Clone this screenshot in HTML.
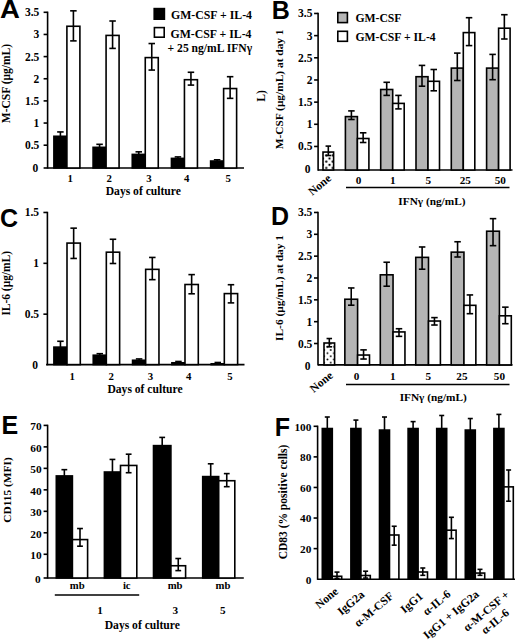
<!DOCTYPE html><html><head><meta charset="utf-8"><style>html,body{margin:0;padding:0;background:#fff;}svg{display:block;}</style></head><body>
<svg width="520" height="640" viewBox="0 0 520 640">
<defs><pattern id="dotsB" x="329.5" y="158.5" width="6.5" height="6.3" patternUnits="userSpaceOnUse"><rect width="6.5" height="6.3" fill="#fff"/><circle cx="0" cy="0" r="1.15" fill="#000"/><circle cx="6.5" cy="0" r="1.15" fill="#000"/><circle cx="0" cy="6.3" r="1.15" fill="#000"/><circle cx="6.5" cy="6.3" r="1.15" fill="#000"/><circle cx="3.25" cy="3.15" r="1.15" fill="#000"/></pattern><pattern id="dotsD" x="330.7" y="350" width="6.5" height="6.3" patternUnits="userSpaceOnUse"><rect width="6.5" height="6.3" fill="#fff"/><circle cx="0" cy="0" r="0.95" fill="#000"/><circle cx="6.5" cy="0" r="0.95" fill="#000"/><circle cx="0" cy="6.3" r="0.95" fill="#000"/><circle cx="6.5" cy="6.3" r="0.95" fill="#000"/><circle cx="3.25" cy="3.15" r="0.95" fill="#000"/></pattern></defs>
<rect width="520" height="640" fill="#fff"/>
<text transform="translate(0.00 17.50) scale(1.08 1)" font-size="25.5" font-family='"Liberation Sans", sans-serif' font-weight="bold">A</text>
<line x1="47.60" y1="11.60" x2="47.60" y2="168.70" stroke="#000" stroke-width="1.6"/>
<line x1="43.60" y1="168.00" x2="47.60" y2="168.00" stroke="#000" stroke-width="1.6"/>
<text x="38.30" y="171.60" font-size="11.5" text-anchor="end" font-family='"Liberation Serif", serif' font-weight="bold">0</text>
<line x1="43.60" y1="145.20" x2="47.60" y2="145.20" stroke="#000" stroke-width="1.6"/>
<text x="39.30" y="149.20" font-size="11.5" text-anchor="end" font-family='"Liberation Serif", serif' font-weight="bold">0.5</text>
<line x1="43.60" y1="123.05" x2="47.60" y2="123.05" stroke="#000" stroke-width="1.6"/>
<text x="39.30" y="127.05" font-size="11.5" text-anchor="end" font-family='"Liberation Serif", serif' font-weight="bold">1</text>
<line x1="43.60" y1="100.90" x2="47.60" y2="100.90" stroke="#000" stroke-width="1.6"/>
<text x="39.30" y="104.90" font-size="11.5" text-anchor="end" font-family='"Liberation Serif", serif' font-weight="bold">1.5</text>
<line x1="43.60" y1="78.75" x2="47.60" y2="78.75" stroke="#000" stroke-width="1.6"/>
<text x="39.30" y="82.75" font-size="11.5" text-anchor="end" font-family='"Liberation Serif", serif' font-weight="bold">2</text>
<line x1="43.60" y1="56.60" x2="47.60" y2="56.60" stroke="#000" stroke-width="1.6"/>
<text x="39.30" y="60.60" font-size="11.5" text-anchor="end" font-family='"Liberation Serif", serif' font-weight="bold">2.5</text>
<line x1="43.60" y1="34.45" x2="47.60" y2="34.45" stroke="#000" stroke-width="1.6"/>
<text x="39.30" y="38.45" font-size="11.5" text-anchor="end" font-family='"Liberation Serif", serif' font-weight="bold">3</text>
<line x1="43.60" y1="12.30" x2="47.60" y2="12.30" stroke="#000" stroke-width="1.6"/>
<text x="39.30" y="16.30" font-size="11.5" text-anchor="end" font-family='"Liberation Serif", serif' font-weight="bold">3.5</text>
<line x1="47.60" y1="168.00" x2="244.00" y2="168.00" stroke="#000" stroke-width="1.6"/>
<rect x="53.90" y="136.28" width="13.00" height="31.72" fill="#000" stroke="#000" stroke-width="1.6"/>
<line x1="60.40" y1="131.94" x2="60.40" y2="136.28" stroke="#000" stroke-width="1.6"/>
<line x1="57.15" y1="131.94" x2="63.65" y2="131.94" stroke="#000" stroke-width="1.6"/>
<rect x="66.90" y="26.26" width="13.00" height="141.74" fill="#fff" stroke="#000" stroke-width="1.6"/>
<line x1="73.40" y1="10.83" x2="73.40" y2="40.89" stroke="#000" stroke-width="1.6"/>
<line x1="70.15" y1="10.83" x2="76.65" y2="10.83" stroke="#000" stroke-width="1.6"/>
<line x1="70.15" y1="40.89" x2="76.65" y2="40.89" stroke="#000" stroke-width="1.6"/>
<text x="70.30" y="182.30" font-size="10.8" text-anchor="middle" font-family='"Liberation Serif", serif' font-weight="bold">1</text>
<rect x="93.08" y="147.33" width="13.00" height="20.67" fill="#000" stroke="#000" stroke-width="1.6"/>
<line x1="99.58" y1="144.32" x2="99.58" y2="147.33" stroke="#000" stroke-width="1.6"/>
<line x1="96.33" y1="144.32" x2="102.83" y2="144.32" stroke="#000" stroke-width="1.6"/>
<rect x="106.08" y="35.41" width="13.00" height="132.59" fill="#fff" stroke="#000" stroke-width="1.6"/>
<line x1="112.58" y1="21.00" x2="112.58" y2="48.40" stroke="#000" stroke-width="1.6"/>
<line x1="109.33" y1="21.00" x2="115.83" y2="21.00" stroke="#000" stroke-width="1.6"/>
<line x1="109.33" y1="48.40" x2="115.83" y2="48.40" stroke="#000" stroke-width="1.6"/>
<text x="109.10" y="182.30" font-size="10.8" text-anchor="middle" font-family='"Liberation Serif", serif' font-weight="bold">2</text>
<rect x="132.26" y="154.40" width="13.00" height="13.60" fill="#000" stroke="#000" stroke-width="1.6"/>
<line x1="138.76" y1="151.83" x2="138.76" y2="154.40" stroke="#000" stroke-width="1.6"/>
<line x1="135.51" y1="151.83" x2="142.01" y2="151.83" stroke="#000" stroke-width="1.6"/>
<rect x="145.26" y="57.60" width="13.00" height="110.40" fill="#fff" stroke="#000" stroke-width="1.6"/>
<line x1="151.76" y1="43.54" x2="151.76" y2="70.06" stroke="#000" stroke-width="1.6"/>
<line x1="148.51" y1="43.54" x2="155.01" y2="43.54" stroke="#000" stroke-width="1.6"/>
<line x1="148.51" y1="70.06" x2="155.01" y2="70.06" stroke="#000" stroke-width="1.6"/>
<text x="148.90" y="182.30" font-size="10.8" text-anchor="middle" font-family='"Liberation Serif", serif' font-weight="bold">3</text>
<rect x="171.44" y="158.38" width="13.00" height="9.62" fill="#000" stroke="#000" stroke-width="1.6"/>
<line x1="177.94" y1="156.91" x2="177.94" y2="158.38" stroke="#000" stroke-width="1.6"/>
<line x1="174.69" y1="156.91" x2="181.19" y2="156.91" stroke="#000" stroke-width="1.6"/>
<rect x="184.44" y="79.70" width="13.00" height="88.30" fill="#fff" stroke="#000" stroke-width="1.6"/>
<line x1="190.94" y1="72.27" x2="190.94" y2="85.09" stroke="#000" stroke-width="1.6"/>
<line x1="187.69" y1="72.27" x2="194.19" y2="72.27" stroke="#000" stroke-width="1.6"/>
<line x1="187.69" y1="85.09" x2="194.19" y2="85.09" stroke="#000" stroke-width="1.6"/>
<text x="186.80" y="182.30" font-size="10.8" text-anchor="middle" font-family='"Liberation Serif", serif' font-weight="bold">4</text>
<rect x="210.62" y="161.03" width="13.00" height="6.97" fill="#000" stroke="#000" stroke-width="1.6"/>
<line x1="217.12" y1="159.79" x2="217.12" y2="161.03" stroke="#000" stroke-width="1.6"/>
<line x1="213.87" y1="159.79" x2="220.37" y2="159.79" stroke="#000" stroke-width="1.6"/>
<rect x="223.62" y="88.54" width="13.00" height="79.46" fill="#fff" stroke="#000" stroke-width="1.6"/>
<line x1="230.12" y1="76.69" x2="230.12" y2="98.35" stroke="#000" stroke-width="1.6"/>
<line x1="226.87" y1="76.69" x2="233.37" y2="76.69" stroke="#000" stroke-width="1.6"/>
<line x1="226.87" y1="98.35" x2="233.37" y2="98.35" stroke="#000" stroke-width="1.6"/>
<text x="228.10" y="182.30" font-size="10.8" text-anchor="middle" font-family='"Liberation Serif", serif' font-weight="bold">5</text>
<text x="143.30" y="195.30" font-size="11.6" text-anchor="middle" font-family='"Liberation Serif", serif' font-weight="bold">Days of culture</text>
<text transform="translate(10.00 83.60) rotate(-90)" font-size="11.5" text-anchor="middle" font-family='"Liberation Serif", serif' font-weight="bold">M-CSF (μg/mL)</text>
<rect x="154.20" y="8.60" width="10.20" height="10.60" fill="#000" stroke="#000" stroke-width="1.6"/>
<text x="171.00" y="18.90" font-size="11.8" text-anchor="start" font-family='"Liberation Serif", serif' font-weight="bold">GM-CSF + IL-4</text>
<rect x="154.40" y="27.60" width="9.80" height="9.60" fill="#fff" stroke="#000" stroke-width="1.6"/>
<text x="170.50" y="37.90" font-size="11.8" text-anchor="start" font-family='"Liberation Serif", serif' font-weight="bold">GM-CSF + IL-4</text>
<text x="167.60" y="51.90" font-size="11.6" text-anchor="start" font-family='"Liberation Serif", serif' font-weight="bold">+ 25 ng/mL IFNγ</text>
<text x="271.80" y="18.80" font-size="25" text-anchor="start" font-family='"Liberation Sans", sans-serif' font-weight="bold">B</text>
<line x1="318.10" y1="12.77" x2="318.10" y2="170.70" stroke="#000" stroke-width="1.6"/>
<text x="310.60" y="173.10" font-size="11.5" text-anchor="end" font-family='"Liberation Serif", serif' font-weight="bold">0</text>
<line x1="314.10" y1="146.46" x2="318.10" y2="146.46" stroke="#000" stroke-width="1.6"/>
<text x="312.40" y="150.46" font-size="11.5" text-anchor="end" font-family='"Liberation Serif", serif' font-weight="bold">0.5</text>
<line x1="314.10" y1="124.29" x2="318.10" y2="124.29" stroke="#000" stroke-width="1.6"/>
<text x="312.40" y="128.29" font-size="11.5" text-anchor="end" font-family='"Liberation Serif", serif' font-weight="bold">1</text>
<line x1="314.10" y1="102.13" x2="318.10" y2="102.13" stroke="#000" stroke-width="1.6"/>
<text x="312.40" y="106.13" font-size="11.5" text-anchor="end" font-family='"Liberation Serif", serif' font-weight="bold">1.5</text>
<line x1="314.10" y1="79.97" x2="318.10" y2="79.97" stroke="#000" stroke-width="1.6"/>
<text x="312.40" y="83.97" font-size="11.5" text-anchor="end" font-family='"Liberation Serif", serif' font-weight="bold">2</text>
<line x1="314.10" y1="57.80" x2="318.10" y2="57.80" stroke="#000" stroke-width="1.6"/>
<text x="312.40" y="61.80" font-size="11.5" text-anchor="end" font-family='"Liberation Serif", serif' font-weight="bold">2.5</text>
<line x1="314.10" y1="35.63" x2="318.10" y2="35.63" stroke="#000" stroke-width="1.6"/>
<text x="312.40" y="39.63" font-size="11.5" text-anchor="end" font-family='"Liberation Serif", serif' font-weight="bold">3</text>
<line x1="314.10" y1="13.47" x2="318.10" y2="13.47" stroke="#000" stroke-width="1.6"/>
<text x="312.40" y="17.47" font-size="11.5" text-anchor="end" font-family='"Liberation Serif", serif' font-weight="bold">3.5</text>
<line x1="318.10" y1="170.00" x2="512.50" y2="170.00" stroke="#000" stroke-width="1.6"/>
<rect x="323.00" y="152.05" width="10.60" height="17.95" fill="url(#dotsB)" stroke="#000" stroke-width="1.6"/>
<line x1="328.30" y1="146.10" x2="328.30" y2="155.50" stroke="#000" stroke-width="1.6"/>
<line x1="325.55" y1="146.10" x2="331.05" y2="146.10" stroke="#000" stroke-width="1.6"/>
<line x1="325.55" y1="155.50" x2="331.05" y2="155.50" stroke="#000" stroke-width="1.6"/>
<rect x="345.40" y="116.60" width="12.00" height="53.40" fill="#b5b5b5" stroke="#000" stroke-width="1.6"/>
<line x1="351.40" y1="110.90" x2="351.40" y2="119.50" stroke="#000" stroke-width="1.6"/>
<line x1="348.15" y1="110.90" x2="354.65" y2="110.90" stroke="#000" stroke-width="1.6"/>
<line x1="348.15" y1="119.50" x2="354.65" y2="119.50" stroke="#000" stroke-width="1.6"/>
<rect x="357.40" y="138.50" width="11.50" height="31.50" fill="#fff" stroke="#000" stroke-width="1.6"/>
<line x1="363.15" y1="132.80" x2="363.15" y2="142.50" stroke="#000" stroke-width="1.6"/>
<line x1="359.90" y1="132.80" x2="366.40" y2="132.80" stroke="#000" stroke-width="1.6"/>
<line x1="359.90" y1="142.50" x2="366.40" y2="142.50" stroke="#000" stroke-width="1.6"/>
<text x="358.50" y="184.00" font-size="11.2" text-anchor="middle" font-family='"Liberation Serif", serif' font-weight="bold">0</text>
<rect x="380.70" y="89.50" width="12.00" height="80.50" fill="#b5b5b5" stroke="#000" stroke-width="1.6"/>
<line x1="386.70" y1="82.30" x2="386.70" y2="95.40" stroke="#000" stroke-width="1.6"/>
<line x1="383.45" y1="82.30" x2="389.95" y2="82.30" stroke="#000" stroke-width="1.6"/>
<line x1="383.45" y1="95.40" x2="389.95" y2="95.40" stroke="#000" stroke-width="1.6"/>
<rect x="392.70" y="103.40" width="11.50" height="66.60" fill="#fff" stroke="#000" stroke-width="1.6"/>
<line x1="398.45" y1="95.40" x2="398.45" y2="108.90" stroke="#000" stroke-width="1.6"/>
<line x1="395.20" y1="95.40" x2="401.70" y2="95.40" stroke="#000" stroke-width="1.6"/>
<line x1="395.20" y1="108.90" x2="401.70" y2="108.90" stroke="#000" stroke-width="1.6"/>
<text x="392.80" y="184.00" font-size="11.2" text-anchor="middle" font-family='"Liberation Serif", serif' font-weight="bold">1</text>
<rect x="416.00" y="76.70" width="12.00" height="93.30" fill="#b5b5b5" stroke="#000" stroke-width="1.6"/>
<line x1="422.00" y1="65.40" x2="422.00" y2="86.20" stroke="#000" stroke-width="1.6"/>
<line x1="418.75" y1="65.40" x2="425.25" y2="65.40" stroke="#000" stroke-width="1.6"/>
<line x1="418.75" y1="86.20" x2="425.25" y2="86.20" stroke="#000" stroke-width="1.6"/>
<rect x="428.00" y="81.30" width="11.50" height="88.70" fill="#fff" stroke="#000" stroke-width="1.6"/>
<line x1="433.75" y1="69.50" x2="433.75" y2="90.80" stroke="#000" stroke-width="1.6"/>
<line x1="430.50" y1="69.50" x2="437.00" y2="69.50" stroke="#000" stroke-width="1.6"/>
<line x1="430.50" y1="90.80" x2="437.00" y2="90.80" stroke="#000" stroke-width="1.6"/>
<text x="428.30" y="184.00" font-size="11.2" text-anchor="middle" font-family='"Liberation Serif", serif' font-weight="bold">5</text>
<rect x="451.30" y="68.10" width="12.00" height="101.90" fill="#b5b5b5" stroke="#000" stroke-width="1.6"/>
<line x1="457.30" y1="53.10" x2="457.30" y2="80.50" stroke="#000" stroke-width="1.6"/>
<line x1="454.05" y1="53.10" x2="460.55" y2="53.10" stroke="#000" stroke-width="1.6"/>
<line x1="454.05" y1="80.50" x2="460.55" y2="80.50" stroke="#000" stroke-width="1.6"/>
<rect x="463.30" y="32.60" width="11.50" height="137.40" fill="#fff" stroke="#000" stroke-width="1.6"/>
<line x1="469.05" y1="17.70" x2="469.05" y2="45.60" stroke="#000" stroke-width="1.6"/>
<line x1="465.80" y1="17.70" x2="472.30" y2="17.70" stroke="#000" stroke-width="1.6"/>
<line x1="465.80" y1="45.60" x2="472.30" y2="45.60" stroke="#000" stroke-width="1.6"/>
<text x="465.25" y="184.00" font-size="11.2" text-anchor="middle" font-family='"Liberation Serif", serif' font-weight="bold">25</text>
<rect x="486.60" y="68.10" width="12.00" height="101.90" fill="#b5b5b5" stroke="#000" stroke-width="1.6"/>
<line x1="492.60" y1="54.40" x2="492.60" y2="79.70" stroke="#000" stroke-width="1.6"/>
<line x1="489.35" y1="54.40" x2="495.85" y2="54.40" stroke="#000" stroke-width="1.6"/>
<line x1="489.35" y1="79.70" x2="495.85" y2="79.70" stroke="#000" stroke-width="1.6"/>
<rect x="498.60" y="28.20" width="11.50" height="141.80" fill="#fff" stroke="#000" stroke-width="1.6"/>
<line x1="504.35" y1="14.70" x2="504.35" y2="39.00" stroke="#000" stroke-width="1.6"/>
<line x1="501.10" y1="14.70" x2="507.60" y2="14.70" stroke="#000" stroke-width="1.6"/>
<line x1="501.10" y1="39.00" x2="507.60" y2="39.00" stroke="#000" stroke-width="1.6"/>
<text x="500.25" y="184.00" font-size="11.2" text-anchor="middle" font-family='"Liberation Serif", serif' font-weight="bold">50</text>
<line x1="346.00" y1="187.60" x2="509.50" y2="187.60" stroke="#000" stroke-width="1.5"/>
<text x="431.90" y="204.80" font-size="11.3" text-anchor="middle" font-family='"Liberation Serif", serif' font-weight="bold">IFNγ (ng/mL)</text>
<text x="332.00" y="179.50" font-size="11.6" text-anchor="end" font-family='"Liberation Serif", serif' font-weight="bold" transform="rotate(-40 332.00 179.50)">None</text>
<text transform="translate(283.00 89.40) rotate(-90)" font-size="11.4" text-anchor="middle" font-family='"Liberation Serif", serif' font-weight="bold">M-CSF (μg/mL) at day 1</text>
<rect x="337.80" y="12.60" width="9.60" height="10.00" fill="#b5b5b5" stroke="#000" stroke-width="1.6"/>
<text x="355.40" y="21.80" font-size="11.7" text-anchor="start" font-family='"Liberation Serif", serif' font-weight="bold">GM-CSF</text>
<rect x="337.80" y="31.30" width="9.60" height="10.00" fill="#fff" stroke="#000" stroke-width="1.6"/>
<text x="355.40" y="41.00" font-size="11.7" text-anchor="start" font-family='"Liberation Serif", serif' font-weight="bold">GM-CSF + IL-4</text>
<text transform="translate(265.3 96) rotate(-90)" font-size="11.6" text-anchor="middle" font-family='"Liberation Serif", serif' font-weight="bold">L)</text>
<text x="-0.10" y="226.80" font-size="25" text-anchor="start" font-family='"Liberation Sans", sans-serif' font-weight="bold">C</text>
<line x1="47.40" y1="211.77" x2="47.40" y2="365.30" stroke="#000" stroke-width="1.6"/>
<text x="38.10" y="368.60" font-size="11.5" text-anchor="end" font-family='"Liberation Serif", serif' font-weight="bold">0</text>
<line x1="43.40" y1="314.17" x2="47.40" y2="314.17" stroke="#000" stroke-width="1.6"/>
<text x="39.10" y="318.17" font-size="11.5" text-anchor="end" font-family='"Liberation Serif", serif' font-weight="bold">0.5</text>
<line x1="43.40" y1="263.32" x2="47.40" y2="263.32" stroke="#000" stroke-width="1.6"/>
<text x="39.10" y="267.32" font-size="11.5" text-anchor="end" font-family='"Liberation Serif", serif' font-weight="bold">1</text>
<line x1="43.40" y1="212.47" x2="47.40" y2="212.47" stroke="#000" stroke-width="1.6"/>
<text x="39.10" y="216.47" font-size="11.5" text-anchor="end" font-family='"Liberation Serif", serif' font-weight="bold">1.5</text>
<line x1="46.10" y1="364.60" x2="244.50" y2="364.60" stroke="#000" stroke-width="1.6"/>
<rect x="53.90" y="347.12" width="13.10" height="17.48" fill="#000" stroke="#000" stroke-width="1.6"/>
<line x1="60.45" y1="341.27" x2="60.45" y2="347.12" stroke="#000" stroke-width="1.6"/>
<line x1="57.20" y1="341.27" x2="63.70" y2="341.27" stroke="#000" stroke-width="1.6"/>
<rect x="67.00" y="243.09" width="13.30" height="121.51" fill="#fff" stroke="#000" stroke-width="1.6"/>
<line x1="73.65" y1="228.15" x2="73.65" y2="258.45" stroke="#000" stroke-width="1.6"/>
<line x1="70.40" y1="228.15" x2="76.90" y2="228.15" stroke="#000" stroke-width="1.6"/>
<line x1="70.40" y1="258.45" x2="76.90" y2="258.45" stroke="#000" stroke-width="1.6"/>
<text x="72.30" y="379.50" font-size="10.8" text-anchor="middle" font-family='"Liberation Serif", serif' font-weight="bold">1</text>
<rect x="93.23" y="355.20" width="13.10" height="9.40" fill="#000" stroke="#000" stroke-width="1.6"/>
<line x1="99.78" y1="353.69" x2="99.78" y2="355.20" stroke="#000" stroke-width="1.6"/>
<line x1="96.53" y1="353.69" x2="103.03" y2="353.69" stroke="#000" stroke-width="1.6"/>
<rect x="106.33" y="252.18" width="13.30" height="112.42" fill="#fff" stroke="#000" stroke-width="1.6"/>
<line x1="112.98" y1="239.26" x2="112.98" y2="263.50" stroke="#000" stroke-width="1.6"/>
<line x1="109.73" y1="239.26" x2="116.23" y2="239.26" stroke="#000" stroke-width="1.6"/>
<line x1="109.73" y1="263.50" x2="116.23" y2="263.50" stroke="#000" stroke-width="1.6"/>
<text x="111.20" y="379.50" font-size="10.8" text-anchor="middle" font-family='"Liberation Serif", serif' font-weight="bold">2</text>
<rect x="132.56" y="360.25" width="13.10" height="4.35" fill="#000" stroke="#000" stroke-width="1.6"/>
<line x1="139.11" y1="358.94" x2="139.11" y2="360.25" stroke="#000" stroke-width="1.6"/>
<line x1="135.86" y1="358.94" x2="142.36" y2="358.94" stroke="#000" stroke-width="1.6"/>
<rect x="145.66" y="269.35" width="13.30" height="95.25" fill="#fff" stroke="#000" stroke-width="1.6"/>
<line x1="152.31" y1="257.44" x2="152.31" y2="279.66" stroke="#000" stroke-width="1.6"/>
<line x1="149.06" y1="257.44" x2="155.56" y2="257.44" stroke="#000" stroke-width="1.6"/>
<line x1="149.06" y1="279.66" x2="155.56" y2="279.66" stroke="#000" stroke-width="1.6"/>
<text x="150.50" y="379.50" font-size="10.8" text-anchor="middle" font-family='"Liberation Serif", serif' font-weight="bold">3</text>
<rect x="171.89" y="362.78" width="13.10" height="1.82" fill="#000" stroke="#000" stroke-width="1.6"/>
<line x1="178.44" y1="361.47" x2="178.44" y2="362.78" stroke="#000" stroke-width="1.6"/>
<line x1="175.19" y1="361.47" x2="181.69" y2="361.47" stroke="#000" stroke-width="1.6"/>
<rect x="184.99" y="284.50" width="13.30" height="80.10" fill="#fff" stroke="#000" stroke-width="1.6"/>
<line x1="191.64" y1="274.61" x2="191.64" y2="293.80" stroke="#000" stroke-width="1.6"/>
<line x1="188.39" y1="274.61" x2="194.89" y2="274.61" stroke="#000" stroke-width="1.6"/>
<line x1="188.39" y1="293.80" x2="194.89" y2="293.80" stroke="#000" stroke-width="1.6"/>
<text x="188.80" y="379.50" font-size="10.8" text-anchor="middle" font-family='"Liberation Serif", serif' font-weight="bold">4</text>
<rect x="211.22" y="363.79" width="13.10" height="0.81" fill="#000" stroke="#000" stroke-width="1.6"/>
<line x1="217.77" y1="362.48" x2="217.77" y2="363.79" stroke="#000" stroke-width="1.6"/>
<line x1="214.52" y1="362.48" x2="221.02" y2="362.48" stroke="#000" stroke-width="1.6"/>
<rect x="224.32" y="293.59" width="13.30" height="71.01" fill="#fff" stroke="#000" stroke-width="1.6"/>
<line x1="230.97" y1="284.71" x2="230.97" y2="302.89" stroke="#000" stroke-width="1.6"/>
<line x1="227.72" y1="284.71" x2="234.22" y2="284.71" stroke="#000" stroke-width="1.6"/>
<line x1="227.72" y1="302.89" x2="234.22" y2="302.89" stroke="#000" stroke-width="1.6"/>
<text x="230.00" y="379.50" font-size="10.8" text-anchor="middle" font-family='"Liberation Serif", serif' font-weight="bold">5</text>
<text x="145.00" y="393.00" font-size="11.6" text-anchor="middle" font-family='"Liberation Serif", serif' font-weight="bold">Days of culture</text>
<text transform="translate(10.00 283.30) rotate(-90)" font-size="11.45" text-anchor="middle" font-family='"Liberation Serif", serif' font-weight="bold">IL-6 (μg/mL)</text>
<text x="271.10" y="224.90" font-size="25" text-anchor="start" font-family='"Liberation Sans", sans-serif' font-weight="bold">D</text>
<line x1="318.00" y1="211.77" x2="318.00" y2="365.60" stroke="#000" stroke-width="1.6"/>
<text x="310.50" y="370.10" font-size="11.5" text-anchor="end" font-family='"Liberation Serif", serif' font-weight="bold">0</text>
<line x1="314.00" y1="343.51" x2="318.00" y2="343.51" stroke="#000" stroke-width="1.6"/>
<text x="312.30" y="347.51" font-size="11.5" text-anchor="end" font-family='"Liberation Serif", serif' font-weight="bold">0.5</text>
<line x1="314.00" y1="321.67" x2="318.00" y2="321.67" stroke="#000" stroke-width="1.6"/>
<text x="312.30" y="325.67" font-size="11.5" text-anchor="end" font-family='"Liberation Serif", serif' font-weight="bold">1</text>
<line x1="314.00" y1="299.83" x2="318.00" y2="299.83" stroke="#000" stroke-width="1.6"/>
<text x="312.30" y="303.83" font-size="11.5" text-anchor="end" font-family='"Liberation Serif", serif' font-weight="bold">1.5</text>
<line x1="314.00" y1="277.99" x2="318.00" y2="277.99" stroke="#000" stroke-width="1.6"/>
<text x="312.30" y="281.99" font-size="11.5" text-anchor="end" font-family='"Liberation Serif", serif' font-weight="bold">2</text>
<line x1="314.00" y1="256.15" x2="318.00" y2="256.15" stroke="#000" stroke-width="1.6"/>
<text x="312.30" y="260.15" font-size="11.5" text-anchor="end" font-family='"Liberation Serif", serif' font-weight="bold">2.5</text>
<line x1="314.00" y1="234.31" x2="318.00" y2="234.31" stroke="#000" stroke-width="1.6"/>
<text x="312.30" y="238.31" font-size="11.5" text-anchor="end" font-family='"Liberation Serif", serif' font-weight="bold">3</text>
<line x1="314.00" y1="212.47" x2="318.00" y2="212.47" stroke="#000" stroke-width="1.6"/>
<text x="312.30" y="216.47" font-size="11.5" text-anchor="end" font-family='"Liberation Serif", serif' font-weight="bold">3.5</text>
<line x1="318.00" y1="364.90" x2="512.50" y2="364.90" stroke="#000" stroke-width="1.6"/>
<rect x="324.00" y="343.00" width="10.60" height="21.90" fill="url(#dotsD)" stroke="#000" stroke-width="1.6"/>
<line x1="329.30" y1="338.54" x2="329.30" y2="346.82" stroke="#000" stroke-width="1.6"/>
<line x1="326.55" y1="338.54" x2="332.05" y2="338.54" stroke="#000" stroke-width="1.6"/>
<line x1="326.55" y1="346.82" x2="332.05" y2="346.82" stroke="#000" stroke-width="1.6"/>
<rect x="344.85" y="299.23" width="12.75" height="65.67" fill="#b5b5b5" stroke="#000" stroke-width="1.6"/>
<line x1="351.23" y1="287.96" x2="351.23" y2="305.19" stroke="#000" stroke-width="1.6"/>
<line x1="347.98" y1="287.96" x2="354.48" y2="287.96" stroke="#000" stroke-width="1.6"/>
<line x1="347.98" y1="305.19" x2="354.48" y2="305.19" stroke="#000" stroke-width="1.6"/>
<rect x="357.60" y="355.04" width="11.90" height="9.86" fill="#fff" stroke="#000" stroke-width="1.6"/>
<line x1="363.55" y1="349.88" x2="363.55" y2="359.03" stroke="#000" stroke-width="1.6"/>
<line x1="360.30" y1="349.88" x2="366.80" y2="349.88" stroke="#000" stroke-width="1.6"/>
<line x1="360.30" y1="359.03" x2="366.80" y2="359.03" stroke="#000" stroke-width="1.6"/>
<text x="356.50" y="379.50" font-size="11.2" text-anchor="middle" font-family='"Liberation Serif", serif' font-weight="bold">0</text>
<rect x="380.30" y="274.81" width="12.75" height="90.09" fill="#b5b5b5" stroke="#000" stroke-width="1.6"/>
<line x1="386.68" y1="262.24" x2="386.68" y2="286.22" stroke="#000" stroke-width="1.6"/>
<line x1="383.43" y1="262.24" x2="389.93" y2="262.24" stroke="#000" stroke-width="1.6"/>
<line x1="383.43" y1="286.22" x2="389.93" y2="286.22" stroke="#000" stroke-width="1.6"/>
<rect x="393.05" y="331.93" width="11.90" height="32.97" fill="#fff" stroke="#000" stroke-width="1.6"/>
<line x1="399.00" y1="328.73" x2="399.00" y2="336.36" stroke="#000" stroke-width="1.6"/>
<line x1="395.75" y1="328.73" x2="402.25" y2="328.73" stroke="#000" stroke-width="1.6"/>
<line x1="395.75" y1="336.36" x2="402.25" y2="336.36" stroke="#000" stroke-width="1.6"/>
<text x="392.70" y="379.50" font-size="11.2" text-anchor="middle" font-family='"Liberation Serif", serif' font-weight="bold">1</text>
<rect x="415.75" y="257.37" width="12.75" height="107.53" fill="#b5b5b5" stroke="#000" stroke-width="1.6"/>
<line x1="422.12" y1="246.98" x2="422.12" y2="269.22" stroke="#000" stroke-width="1.6"/>
<line x1="418.88" y1="246.98" x2="425.38" y2="246.98" stroke="#000" stroke-width="1.6"/>
<line x1="418.88" y1="269.22" x2="425.38" y2="269.22" stroke="#000" stroke-width="1.6"/>
<rect x="428.50" y="321.03" width="11.90" height="43.87" fill="#fff" stroke="#000" stroke-width="1.6"/>
<line x1="434.45" y1="317.61" x2="434.45" y2="325.02" stroke="#000" stroke-width="1.6"/>
<line x1="431.20" y1="317.61" x2="437.70" y2="317.61" stroke="#000" stroke-width="1.6"/>
<line x1="431.20" y1="325.02" x2="437.70" y2="325.02" stroke="#000" stroke-width="1.6"/>
<text x="428.30" y="379.50" font-size="11.2" text-anchor="middle" font-family='"Liberation Serif", serif' font-weight="bold">5</text>
<rect x="451.20" y="252.14" width="12.75" height="112.76" fill="#b5b5b5" stroke="#000" stroke-width="1.6"/>
<line x1="457.58" y1="241.75" x2="457.58" y2="257.01" stroke="#000" stroke-width="1.6"/>
<line x1="454.33" y1="241.75" x2="460.83" y2="241.75" stroke="#000" stroke-width="1.6"/>
<line x1="454.33" y1="257.01" x2="460.83" y2="257.01" stroke="#000" stroke-width="1.6"/>
<rect x="463.95" y="305.33" width="11.90" height="59.57" fill="#fff" stroke="#000" stroke-width="1.6"/>
<line x1="469.90" y1="294.94" x2="469.90" y2="313.69" stroke="#000" stroke-width="1.6"/>
<line x1="466.65" y1="294.94" x2="473.15" y2="294.94" stroke="#000" stroke-width="1.6"/>
<line x1="466.65" y1="313.69" x2="473.15" y2="313.69" stroke="#000" stroke-width="1.6"/>
<text x="461.90" y="379.50" font-size="11.2" text-anchor="middle" font-family='"Liberation Serif", serif' font-weight="bold">25</text>
<rect x="486.65" y="231.21" width="12.75" height="133.69" fill="#b5b5b5" stroke="#000" stroke-width="1.6"/>
<line x1="493.03" y1="218.64" x2="493.03" y2="245.67" stroke="#000" stroke-width="1.6"/>
<line x1="489.78" y1="218.64" x2="496.28" y2="218.64" stroke="#000" stroke-width="1.6"/>
<line x1="489.78" y1="245.67" x2="496.28" y2="245.67" stroke="#000" stroke-width="1.6"/>
<rect x="499.40" y="315.80" width="11.90" height="49.10" fill="#fff" stroke="#000" stroke-width="1.6"/>
<line x1="505.35" y1="307.15" x2="505.35" y2="323.72" stroke="#000" stroke-width="1.6"/>
<line x1="502.10" y1="307.15" x2="508.60" y2="307.15" stroke="#000" stroke-width="1.6"/>
<line x1="502.10" y1="323.72" x2="508.60" y2="323.72" stroke="#000" stroke-width="1.6"/>
<text x="499.40" y="379.50" font-size="11.2" text-anchor="middle" font-family='"Liberation Serif", serif' font-weight="bold">50</text>
<line x1="346.00" y1="384.50" x2="509.50" y2="384.50" stroke="#000" stroke-width="1.5"/>
<text x="433.20" y="400.80" font-size="11.3" text-anchor="middle" font-family='"Liberation Serif", serif' font-weight="bold">IFNγ (ng/mL)</text>
<text x="333.60" y="376.60" font-size="11.6" text-anchor="end" font-family='"Liberation Serif", serif' font-weight="bold" transform="rotate(-40 333.60 376.60)">None</text>
<text transform="translate(283.00 288.00) rotate(-90)" font-size="11.4" text-anchor="middle" font-family='"Liberation Serif", serif' font-weight="bold">IL-6 (μg/mL) at day 1</text>
<text x="1.50" y="433.70" font-size="25" text-anchor="start" font-family='"Liberation Sans", sans-serif' font-weight="bold">E</text>
<line x1="47.60" y1="424.70" x2="47.60" y2="578.70" stroke="#000" stroke-width="1.6"/>
<line x1="43.60" y1="578.00" x2="47.60" y2="578.00" stroke="#000" stroke-width="1.6"/>
<text x="40.70" y="582.70" font-size="11.3" text-anchor="end" font-family='"Liberation Serif", serif' font-weight="bold">0</text>
<line x1="43.60" y1="554.28" x2="47.60" y2="554.28" stroke="#000" stroke-width="1.6"/>
<text x="41.60" y="558.98" font-size="11.3" text-anchor="end" font-family='"Liberation Serif", serif' font-weight="bold">10</text>
<line x1="43.60" y1="532.80" x2="47.60" y2="532.80" stroke="#000" stroke-width="1.6"/>
<text x="41.60" y="537.50" font-size="11.3" text-anchor="end" font-family='"Liberation Serif", serif' font-weight="bold">20</text>
<line x1="43.60" y1="511.32" x2="47.60" y2="511.32" stroke="#000" stroke-width="1.6"/>
<text x="41.60" y="516.02" font-size="11.3" text-anchor="end" font-family='"Liberation Serif", serif' font-weight="bold">30</text>
<line x1="43.60" y1="489.84" x2="47.60" y2="489.84" stroke="#000" stroke-width="1.6"/>
<text x="41.60" y="494.54" font-size="11.3" text-anchor="end" font-family='"Liberation Serif", serif' font-weight="bold">40</text>
<line x1="43.60" y1="468.36" x2="47.60" y2="468.36" stroke="#000" stroke-width="1.6"/>
<text x="41.60" y="473.06" font-size="11.3" text-anchor="end" font-family='"Liberation Serif", serif' font-weight="bold">50</text>
<line x1="43.60" y1="446.88" x2="47.60" y2="446.88" stroke="#000" stroke-width="1.6"/>
<text x="41.60" y="451.58" font-size="11.3" text-anchor="end" font-family='"Liberation Serif", serif' font-weight="bold">60</text>
<line x1="43.60" y1="425.40" x2="47.60" y2="425.40" stroke="#000" stroke-width="1.6"/>
<text x="41.60" y="430.10" font-size="11.3" text-anchor="end" font-family='"Liberation Serif", serif' font-weight="bold">70</text>
<line x1="47.60" y1="578.00" x2="243.80" y2="578.00" stroke="#000" stroke-width="1.6"/>
<rect x="56.30" y="475.92" width="16.10" height="102.08" fill="#000" stroke="#000" stroke-width="1.6"/>
<line x1="64.35" y1="469.67" x2="64.35" y2="475.92" stroke="#000" stroke-width="1.6"/>
<line x1="61.45" y1="469.67" x2="67.25" y2="469.67" stroke="#000" stroke-width="1.6"/>
<rect x="72.40" y="539.58" width="15.20" height="38.42" fill="#fff" stroke="#000" stroke-width="1.6"/>
<line x1="80.00" y1="528.53" x2="80.00" y2="546.19" stroke="#000" stroke-width="1.6"/>
<line x1="77.10" y1="528.53" x2="82.90" y2="528.53" stroke="#000" stroke-width="1.6"/>
<line x1="77.10" y1="546.19" x2="82.90" y2="546.19" stroke="#000" stroke-width="1.6"/>
<text x="77.20" y="589.40" font-size="10.7" text-anchor="middle" font-family='"Liberation Serif", serif' font-weight="bold">mb</text>
<rect x="104.40" y="472.00" width="16.10" height="106.00" fill="#000" stroke="#000" stroke-width="1.6"/>
<line x1="112.45" y1="459.43" x2="112.45" y2="472.00" stroke="#000" stroke-width="1.6"/>
<line x1="109.55" y1="459.43" x2="115.35" y2="459.43" stroke="#000" stroke-width="1.6"/>
<rect x="120.50" y="465.46" width="16.30" height="112.54" fill="#fff" stroke="#000" stroke-width="1.6"/>
<line x1="128.65" y1="454.19" x2="128.65" y2="472.72" stroke="#000" stroke-width="1.6"/>
<line x1="125.75" y1="454.19" x2="131.55" y2="454.19" stroke="#000" stroke-width="1.6"/>
<line x1="125.75" y1="472.72" x2="131.55" y2="472.72" stroke="#000" stroke-width="1.6"/>
<text x="126.75" y="589.40" font-size="10.7" text-anchor="middle" font-family='"Liberation Serif", serif' font-weight="bold">ic</text>
<rect x="153.50" y="445.62" width="17.40" height="132.38" fill="#000" stroke="#000" stroke-width="1.6"/>
<line x1="162.20" y1="437.41" x2="162.20" y2="445.62" stroke="#000" stroke-width="1.6"/>
<line x1="159.30" y1="437.41" x2="165.10" y2="437.41" stroke="#000" stroke-width="1.6"/>
<rect x="170.90" y="565.74" width="14.70" height="12.26" fill="#fff" stroke="#000" stroke-width="1.6"/>
<line x1="178.25" y1="558.51" x2="178.25" y2="570.61" stroke="#000" stroke-width="1.6"/>
<line x1="175.35" y1="558.51" x2="181.15" y2="558.51" stroke="#000" stroke-width="1.6"/>
<line x1="175.35" y1="570.61" x2="181.15" y2="570.61" stroke="#000" stroke-width="1.6"/>
<text x="175.15" y="589.40" font-size="10.7" text-anchor="middle" font-family='"Liberation Serif", serif' font-weight="bold">mb</text>
<rect x="202.70" y="476.58" width="16.00" height="101.42" fill="#000" stroke="#000" stroke-width="1.6"/>
<line x1="210.70" y1="463.79" x2="210.70" y2="476.58" stroke="#000" stroke-width="1.6"/>
<line x1="207.80" y1="463.79" x2="213.60" y2="463.79" stroke="#000" stroke-width="1.6"/>
<rect x="218.70" y="480.72" width="16.10" height="97.28" fill="#fff" stroke="#000" stroke-width="1.6"/>
<line x1="226.75" y1="473.60" x2="226.75" y2="486.68" stroke="#000" stroke-width="1.6"/>
<line x1="223.85" y1="473.60" x2="229.65" y2="473.60" stroke="#000" stroke-width="1.6"/>
<line x1="223.85" y1="486.68" x2="229.65" y2="486.68" stroke="#000" stroke-width="1.6"/>
<text x="223.00" y="589.40" font-size="10.7" text-anchor="middle" font-family='"Liberation Serif", serif' font-weight="bold">mb</text>
<line x1="54.80" y1="595.00" x2="139.20" y2="595.00" stroke="#000" stroke-width="1.5"/>
<text x="100.00" y="614.00" font-size="11.2" text-anchor="middle" font-family='"Liberation Serif", serif' font-weight="bold">1</text>
<text x="175.40" y="614.00" font-size="11.2" text-anchor="middle" font-family='"Liberation Serif", serif' font-weight="bold">3</text>
<text x="222.80" y="614.00" font-size="11.2" text-anchor="middle" font-family='"Liberation Serif", serif' font-weight="bold">5</text>
<text x="142.30" y="628.50" font-size="11.6" text-anchor="middle" font-family='"Liberation Serif", serif' font-weight="bold">Days of culture</text>
<text transform="translate(10.60 490.00) rotate(-90)" font-size="11.4" text-anchor="middle" font-family='"Liberation Serif", serif' font-weight="bold">CD115 (MFI)</text>
<text x="274.70" y="435.70" font-size="25" text-anchor="start" font-family='"Liberation Sans", sans-serif' font-weight="bold">F</text>
<line x1="317.60" y1="425.60" x2="317.60" y2="579.90" stroke="#000" stroke-width="1.6"/>
<text x="311.40" y="583.60" font-size="11.3" text-anchor="end" font-family='"Liberation Serif", serif' font-weight="bold">0</text>
<line x1="313.60" y1="548.62" x2="317.60" y2="548.62" stroke="#000" stroke-width="1.6"/>
<text x="311.40" y="553.02" font-size="11.3" text-anchor="end" font-family='"Liberation Serif", serif' font-weight="bold">20</text>
<line x1="313.60" y1="518.04" x2="317.60" y2="518.04" stroke="#000" stroke-width="1.6"/>
<text x="311.40" y="522.44" font-size="11.3" text-anchor="end" font-family='"Liberation Serif", serif' font-weight="bold">40</text>
<line x1="313.60" y1="487.46" x2="317.60" y2="487.46" stroke="#000" stroke-width="1.6"/>
<text x="311.40" y="491.86" font-size="11.3" text-anchor="end" font-family='"Liberation Serif", serif' font-weight="bold">60</text>
<line x1="313.60" y1="456.88" x2="317.60" y2="456.88" stroke="#000" stroke-width="1.6"/>
<text x="311.40" y="461.28" font-size="11.3" text-anchor="end" font-family='"Liberation Serif", serif' font-weight="bold">80</text>
<line x1="313.60" y1="426.30" x2="317.60" y2="426.30" stroke="#000" stroke-width="1.6"/>
<text x="311.40" y="430.70" font-size="11.3" text-anchor="end" font-family='"Liberation Serif", serif' font-weight="bold">100</text>
<line x1="317.60" y1="579.20" x2="515.00" y2="579.20" stroke="#000" stroke-width="1.6"/>
<rect x="322.30" y="428.53" width="10.00" height="150.67" fill="#000" stroke="#000" stroke-width="1.6"/>
<line x1="327.30" y1="417.01" x2="327.30" y2="428.53" stroke="#000" stroke-width="1.6"/>
<line x1="324.80" y1="417.01" x2="329.80" y2="417.01" stroke="#000" stroke-width="1.6"/>
<rect x="332.30" y="576.27" width="9.40" height="2.93" fill="#fff" stroke="#000" stroke-width="1.6"/>
<line x1="337.00" y1="572.10" x2="337.00" y2="578.38" stroke="#000" stroke-width="1.6"/>
<line x1="334.50" y1="572.10" x2="339.50" y2="572.10" stroke="#000" stroke-width="1.6"/>
<line x1="334.50" y1="578.38" x2="339.50" y2="578.38" stroke="#000" stroke-width="1.6"/>
<text x="339.00" y="592.60" font-size="11.6" text-anchor="end" font-family='"Liberation Serif", serif' font-weight="bold" transform="rotate(-40 339.00 592.60)">None</text>
<rect x="350.90" y="428.53" width="10.00" height="150.67" fill="#000" stroke="#000" stroke-width="1.6"/>
<line x1="355.90" y1="420.08" x2="355.90" y2="428.53" stroke="#000" stroke-width="1.6"/>
<line x1="353.40" y1="420.08" x2="358.40" y2="420.08" stroke="#000" stroke-width="1.6"/>
<rect x="360.90" y="575.51" width="9.40" height="3.69" fill="#fff" stroke="#000" stroke-width="1.6"/>
<line x1="365.60" y1="571.19" x2="365.60" y2="578.08" stroke="#000" stroke-width="1.6"/>
<line x1="363.10" y1="571.19" x2="368.10" y2="571.19" stroke="#000" stroke-width="1.6"/>
<line x1="363.10" y1="578.08" x2="368.10" y2="578.08" stroke="#000" stroke-width="1.6"/>
<text x="365.10" y="595.90" font-size="11.6" text-anchor="end" font-family='"Liberation Serif", serif' font-weight="bold" transform="rotate(-40 365.10 595.90)">IgG2a</text>
<rect x="379.50" y="430.06" width="10.00" height="149.14" fill="#000" stroke="#000" stroke-width="1.6"/>
<line x1="384.50" y1="417.01" x2="384.50" y2="430.06" stroke="#000" stroke-width="1.6"/>
<line x1="382.00" y1="417.01" x2="387.00" y2="417.01" stroke="#000" stroke-width="1.6"/>
<rect x="389.50" y="535.00" width="9.40" height="44.20" fill="#fff" stroke="#000" stroke-width="1.6"/>
<line x1="394.20" y1="526.25" x2="394.20" y2="545.16" stroke="#000" stroke-width="1.6"/>
<line x1="391.70" y1="526.25" x2="396.70" y2="526.25" stroke="#000" stroke-width="1.6"/>
<line x1="391.70" y1="545.16" x2="396.70" y2="545.16" stroke="#000" stroke-width="1.6"/>
<text x="394.40" y="597.30" font-size="11.6" text-anchor="end" font-family='"Liberation Serif", serif' font-weight="bold" transform="rotate(-40 394.40 597.30)">α-M-CSF</text>
<rect x="408.10" y="428.53" width="10.00" height="150.67" fill="#000" stroke="#000" stroke-width="1.6"/>
<line x1="413.10" y1="421.61" x2="413.10" y2="428.53" stroke="#000" stroke-width="1.6"/>
<line x1="410.60" y1="421.61" x2="415.60" y2="421.61" stroke="#000" stroke-width="1.6"/>
<rect x="418.10" y="572.00" width="9.40" height="7.20" fill="#fff" stroke="#000" stroke-width="1.6"/>
<line x1="422.80" y1="568.00" x2="422.80" y2="575.32" stroke="#000" stroke-width="1.6"/>
<line x1="420.30" y1="568.00" x2="425.30" y2="568.00" stroke="#000" stroke-width="1.6"/>
<line x1="420.30" y1="575.32" x2="425.30" y2="575.32" stroke="#000" stroke-width="1.6"/>
<text x="423.70" y="597.50" font-size="11.6" text-anchor="end" font-family='"Liberation Serif", serif' font-weight="bold" transform="rotate(-40 423.70 597.50)">IgG1</text>
<rect x="436.70" y="428.53" width="10.00" height="150.67" fill="#000" stroke="#000" stroke-width="1.6"/>
<line x1="441.70" y1="415.48" x2="441.70" y2="428.53" stroke="#000" stroke-width="1.6"/>
<line x1="439.20" y1="415.48" x2="444.20" y2="415.48" stroke="#000" stroke-width="1.6"/>
<rect x="446.70" y="530.19" width="9.40" height="49.01" fill="#fff" stroke="#000" stroke-width="1.6"/>
<line x1="451.40" y1="517.29" x2="451.40" y2="538.58" stroke="#000" stroke-width="1.6"/>
<line x1="448.90" y1="517.29" x2="453.90" y2="517.29" stroke="#000" stroke-width="1.6"/>
<line x1="448.90" y1="538.58" x2="453.90" y2="538.58" stroke="#000" stroke-width="1.6"/>
<text x="451.50" y="595.30" font-size="11.6" text-anchor="end" font-family='"Liberation Serif", serif' font-weight="bold" transform="rotate(-40 451.50 595.30)">α-IL-6</text>
<rect x="465.30" y="430.06" width="10.00" height="149.14" fill="#000" stroke="#000" stroke-width="1.6"/>
<line x1="470.30" y1="418.54" x2="470.30" y2="430.06" stroke="#000" stroke-width="1.6"/>
<line x1="467.80" y1="418.54" x2="472.80" y2="418.54" stroke="#000" stroke-width="1.6"/>
<rect x="475.30" y="573.06" width="9.40" height="6.14" fill="#fff" stroke="#000" stroke-width="1.6"/>
<line x1="480.00" y1="569.35" x2="480.00" y2="575.32" stroke="#000" stroke-width="1.6"/>
<line x1="477.50" y1="569.35" x2="482.50" y2="569.35" stroke="#000" stroke-width="1.6"/>
<line x1="477.50" y1="575.32" x2="482.50" y2="575.32" stroke="#000" stroke-width="1.6"/>
<text x="479.80" y="595.50" font-size="11.6" text-anchor="end" font-family='"Liberation Serif", serif' font-weight="bold" transform="rotate(-40 479.80 595.50)">IgG1 + IgG2a</text>
<rect x="493.90" y="428.53" width="10.00" height="150.67" fill="#000" stroke="#000" stroke-width="1.6"/>
<line x1="498.90" y1="414.41" x2="498.90" y2="428.53" stroke="#000" stroke-width="1.6"/>
<line x1="496.40" y1="414.41" x2="501.40" y2="414.41" stroke="#000" stroke-width="1.6"/>
<rect x="503.90" y="486.86" width="9.40" height="92.34" fill="#fff" stroke="#000" stroke-width="1.6"/>
<line x1="508.60" y1="469.99" x2="508.60" y2="501.22" stroke="#000" stroke-width="1.6"/>
<line x1="506.10" y1="469.99" x2="511.10" y2="469.99" stroke="#000" stroke-width="1.6"/>
<line x1="506.10" y1="501.22" x2="511.10" y2="501.22" stroke="#000" stroke-width="1.6"/>
<text x="510.20" y="595.90" font-size="11.6" text-anchor="end" font-family='"Liberation Serif", serif' font-weight="bold" transform="rotate(-40 510.20 595.90)">α-M-CSF +</text>
<text x="510.00" y="614.10" font-size="11.6" text-anchor="end" font-family='"Liberation Serif", serif' font-weight="bold" transform="rotate(-40 510.00 614.10)">α-IL-6</text>
<text transform="translate(287.00 502.00) rotate(-90)" font-size="11.5" text-anchor="middle" font-family='"Liberation Serif", serif' font-weight="bold">CD83 (% positive cells)</text>
</svg></body></html>
